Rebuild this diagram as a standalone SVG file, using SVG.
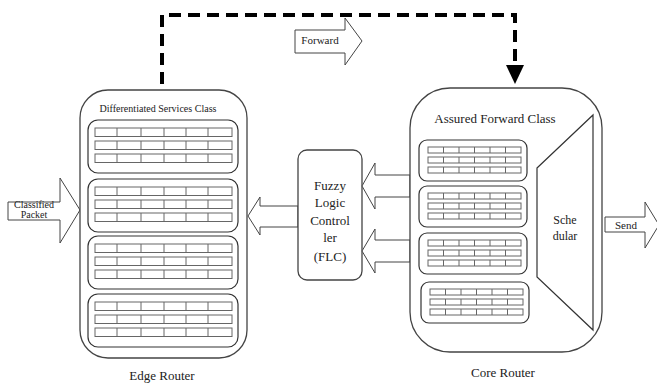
<svg xmlns="http://www.w3.org/2000/svg" width="657" height="386" viewBox="0 0 657 386" font-family="'Liberation Serif', 'Times New Roman', serif">
<style>
.t{font-family:'Liberation Serif','Times New Roman',serif;fill:#222;}
.outer{fill:#fff;stroke:#444;stroke-width:1.3;}
.q{fill:#fff;stroke:#333;stroke-width:1.2;}
.row{fill:#fff;stroke:#666;stroke-width:1;}
.div{stroke:#666;stroke-width:1;}
.arr{fill:#fff;stroke:#444;stroke-width:1;}
.dash{fill:none;stroke:#000;stroke-width:4;stroke-dasharray:12 7;}
</style>
<defs>
<g id="erow">
<rect class="row" x="95" y="0" width="137" height="8.5"/>
<path class="div" d="M117 0V8.5M141 0V8.5M164 0V8.5M186 0V8.5M208 0V8.5"/>
</g>
<g id="ebox">
<rect class="q" x="88" y="0" width="150" height="53" rx="10"/>
<use href="#erow" y="8"/>
<use href="#erow" y="21"/>
<use href="#erow" y="34"/>
</g>
<g id="crow">
<rect class="row" x="428" y="0" width="93" height="6"/>
<path class="div" d="M443.5 0V6M459 0V6M474.5 0V6M490 0V6M505.5 0V6"/>
</g>
<g id="cbox">
<rect class="q" x="419" y="0" width="108" height="41" rx="8"/>
<use href="#crow" y="7"/>
<use href="#crow" y="17"/>
<use href="#crow" y="27"/>
</g>
</defs>

<g id="connectors">
<path class="dash" d="M162 84V15H515V66"/>
<polygon points="506,65 524,65 515,84" fill="#000"/>
</g>

<g id="forward-arrow">
<polygon class="arr" points="295,30 345,30 345,18 362,41 345,65 345,53 295,53"/>
<text class="t" x="320" y="44" font-size="11" text-anchor="middle">Forward</text>
</g>

<g id="classified-packet">
<polygon class="arr" points="8,202 60,202 60,178 80,210 60,243 60,220 8,220"/>
<text class="t" x="34" y="208" font-size="10" text-anchor="middle">Classified</text>
<text class="t" x="34" y="218" font-size="10" text-anchor="middle">Packet</text>
</g>

<g id="edge-router">
<rect class="outer" x="80" y="90" width="167" height="268" rx="28"/>
<text class="t" x="158" y="112" font-size="11" text-anchor="middle" textLength="117" lengthAdjust="spacingAndGlyphs">Differentiated Services Class</text>
<use href="#ebox" y="120"/>
<use href="#ebox" y="179"/>
<use href="#ebox" y="236"/>
<use href="#ebox" y="294"/>
<text class="t" x="162" y="380" font-size="13" text-anchor="middle">Edge Router</text>
</g>

<g id="flc-to-edge">
<polygon class="arr" points="298,206 260,206 260,197 248,216 260,235 260,227 298,227"/>
</g>

<g id="flc">
<rect class="outer" x="298" y="150" width="64" height="130" rx="9"/>
<text class="t" x="330" y="190" font-size="13" text-anchor="middle">Fuzzy</text>
<text class="t" x="330" y="207" font-size="13" text-anchor="middle">Logic</text>
<text class="t" x="330" y="225" font-size="13" text-anchor="middle">Control</text>
<text class="t" x="330" y="242" font-size="13" text-anchor="middle">ler</text>
<text class="t" x="330" y="261" font-size="13" text-anchor="middle">(FLC)</text>
</g>

<g id="core-to-flc">
<polygon class="arr" points="410,175 375,175 375,163 362,186 375,209 375,197 410,197"/>
<polygon class="arr" points="410,240 375,240 375,229 362,251 375,273 375,262 410,262"/>
</g>

<g id="core-router">
<rect class="outer" x="410" y="88" width="192" height="264" rx="40"/>
<text class="t" x="495" y="123" font-size="13" text-anchor="middle">Assured Forward Class</text>
<use href="#cbox" y="140"/>
<use href="#cbox" y="186"/>
<use href="#cbox" y="233"/>
<use href="#cbox" x="2" y="282"/>
<g id="scheduler">
<polygon points="537,168 593,115 593,330 537,277" fill="#fff" stroke="#333" stroke-width="1.2"/>
<text class="t" x="565" y="224" font-size="12" text-anchor="middle">Sche</text>
<text class="t" x="565" y="240" font-size="12" text-anchor="middle">dular</text>
</g>
<text class="t" x="503" y="377" font-size="13" text-anchor="middle">Core Router</text>
</g>

<g id="send-arrow">
<polygon class="arr" points="605,217 645,217 645,202 659,225 645,248 645,232 605,232"/>
<text class="t" x="626" y="229" font-size="11" text-anchor="middle">Send</text>
</g>
</svg>
